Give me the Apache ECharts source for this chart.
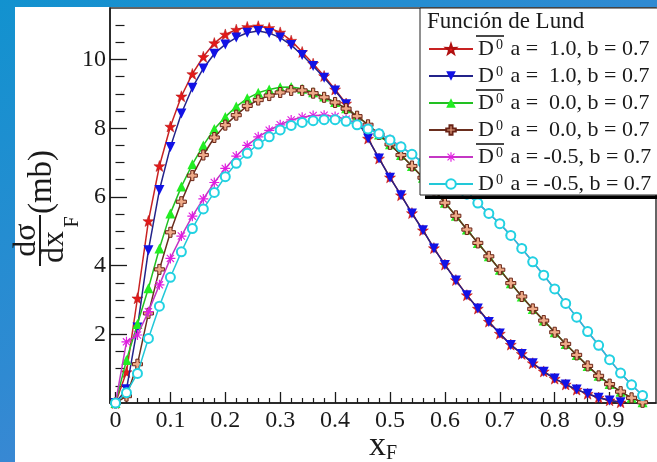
<!DOCTYPE html>
<html>
<head>
<meta charset="utf-8">
<script src="https://cdn.jsdelivr.net/npm/echarts@6/dist/echarts.min.js"></script>
<style>
html,body{margin:0;padding:0;width:657px;height:462px;overflow:hidden;}
body{position:relative;background:linear-gradient(150deg,#1292cf 0%,#2f8ad2 45%,#5e80d8 100%);}
#panel{position:absolute;left:15px;top:7px;right:0;bottom:0;background:#fff;}
#chart{position:absolute;left:0;top:0;width:657px;height:462px;}
</style>
</head>
<body>
<div id="panel"></div>
<div id="chart"></div>
<script>
// x_F sampling points
const xF = [0,0.02,0.04,0.06,0.08,0.1,0.12,0.14,0.16,0.18,0.2,0.22,0.24,0.26,0.28,0.3,0.32,0.34,0.36,0.38,0.4,0.42,0.44,0.46,0.48,0.5,0.52,0.54,0.56,0.58,0.6,0.62,0.64,0.66,0.68,0.7,0.72,0.74,0.76,0.78,0.8,0.82,0.84,0.86,0.88,0.9,0.92,0.94,0.96];

// dσ/dx_F (mb) for each Lund parameter set
const dbarA10 = [0,0.9,3.05,5.3,6.9,8.05,8.93,9.58,10.08,10.48,10.73,10.87,10.95,10.97,10.92,10.79,10.55,10.22,9.88,9.52,9.13,8.72,8.25,7.7,7.12,6.57,6.05,5.53,5.03,4.51,4.03,3.58,3.14,2.75,2.37,2.02,1.7,1.43,1.16,0.92,0.71,0.54,0.39,0.27,0.16,0.08,0.02];
const dA10 = [0,0.4,2.2,4.45,6.2,7.45,8.43,9.18,9.74,10.17,10.44,10.64,10.78,10.83,10.77,10.64,10.42,10.13,9.81,9.47,9.1,8.7,8.24,7.7,7.12,6.56,6.05,5.52,5.03,4.5,4.02,3.57,3.14,2.75,2.36,2.02,1.69,1.43,1.16,0.91,0.71,0.54,0.39,0.27,0.15,0.07,0.02];
const dbarA00 = [0,1.25,2.3,3.34,4.5,5.52,6.3,6.95,7.5,7.98,8.33,8.63,8.87,9.03,9.13,9.19,9.2,9.15,9.05,8.92,8.76,8.58,8.36,8.1,7.82,7.53,7.22,6.9,6.56,6.2,5.83,5.45,5.05,4.66,4.27,3.88,3.49,3.1,2.74,2.4,2.06,1.72,1.4,1.08,0.79,0.55,0.33,0.15,0.02];
const dA00 = [0,0.2,1.13,2.61,3.89,4.97,5.86,6.62,7.22,7.73,8.09,8.38,8.65,8.82,8.95,9.04,9.1,9.1,9.02,8.9,8.75,8.57,8.35,8.1,7.82,7.53,7.22,6.9,6.56,6.2,5.83,5.45,5.05,4.66,4.27,3.88,3.49,3.1,2.74,2.4,2.06,1.72,1.4,1.08,0.79,0.55,0.33,0.15,0.02];
const dbarAm05 = [0,1.78,1.98,2.66,3.44,4.21,4.86,5.44,5.94,6.42,6.83,7.19,7.5,7.75,7.94,8.1,8.24,8.32,8.37,8.38,8.34,8.26,8.14,8.0,7.85,7.67,7.47,7.24,7.0,6.77,6.55,6.33,6.08,5.82,5.52,5.22,4.88,4.5,4.11,3.72,3.32,2.9,2.5,2.08,1.68,1.26,0.87,0.53,0.22];
const dAm05 = [0,0.3,0.86,1.88,2.82,3.66,4.4,5.08,5.65,6.13,6.59,6.98,7.27,7.54,7.75,7.95,8.08,8.17,8.22,8.25,8.25,8.2,8.1,7.98,7.84,7.66,7.46,7.24,7.0,6.77,6.55,6.33,6.08,5.82,5.52,5.22,4.88,4.5,4.11,3.72,3.32,2.9,2.5,2.08,1.68,1.26,0.87,0.53,0.22];

// legend entries
const legendTitle = 'Función de Lund';
const isAnti = [true, false, true, false, true, false];
const paramA = [' 1.0', ' 1.0', ' 0.0', ' 0.0', '-0.5', '-0.5'];
const paramB = '0.7';

// axis ticks and labels
const xMajor = [0,0.1,0.2,0.3,0.4,0.5,0.6,0.7,0.8,0.9];
const xMajorLabels = ['0','0.1','0.2','0.3','0.4','0.5','0.6','0.7','0.8','0.9'];
const xMinor = [0.02,0.04,0.06,0.08,0.12,0.14,0.16,0.18,0.22,0.24,0.26,0.28,0.32,0.34,0.36,0.38,0.42,0.44,0.46,0.48,0.52,0.54,0.56,0.58,0.62,0.64,0.66,0.68,0.72,0.74,0.76,0.78,0.82,0.84,0.86,0.88,0.92,0.94,0.96];
const yMajor = [2,4,6,8,10];
const yMajorLabels = ['2','4','6','8','10'];
const yMinor = [0.5,1,1.5,2.5,3,3.5,4.5,5,5.5,6.5,7,7.5,8.5,9,9.5,10.5,11];

const SERIF = "'Liberation Serif','DejaVu Serif',serif";
const INK = '#1a1a1a';

const seriesData = [dbarA10, dA10, dbarA00, dA00, dbarAm05, dAm05];
const names = seriesData.map((_, i) => (isAnti[i] ? 'Dbar0' : 'D0') + ' a=' + paramA[i].trim() + ' b=' + paramB);

const SYM_STAR = 'path://M50,0 L61.8,35.1 L97.6,34.5 L69,56.7 L79.4,90.5 L50,70.3 L20.6,90.5 L31,56.7 L2.4,34.5 L38.2,35.1 Z';
const SYM_DOWN = 'path://M0,0 L100,0 L50,90 Z';
const SYM_PLUS = 'path://M34,0 H66 V34 H100 V66 H66 V100 H34 V66 H0 V34 H34 Z';
const SYM_AST = 'path://M44,0 H56 V100 H44 Z M0,44 H100 V56 H0 Z M10,18 L18,10 L90,82 L82,90 Z M82,10 L90,18 L18,90 L10,82 Z';

const styles = [
  { line: '#c82222', symbol: SYM_STAR, size: 11, fill: '#e31a1a', border: '#b01010', bw: 0.5 },
  { line: '#23238a', symbol: SYM_DOWN, size: 10, fill: '#1212e6', border: '#1212e6', bw: 0 },
  { line: '#22c022', symbol: 'triangle', size: 10, fill: '#22ee22', border: '#22ee22', bw: 0 },
  { line: '#6a2e1e', symbol: SYM_PLUS, size: 10, fill: '#eeaa88', border: '#6a2416', bw: 1 },
  { line: '#c437c4', symbol: SYM_AST, size: 10, fill: '#e01ee0', border: '#e01ee0', bw: 0 },
  { line: '#22c8d8', symbol: 'emptyCircle', size: 9, fill: '#22d2e2', border: '#22d2e2', bw: 1.5 }
];

const series = seriesData.map((vals, i) => ({
  name: names[i],
  type: 'line',
  xAxisIndex: 0,
  yAxisIndex: 0,
  data: vals.map((v, k) => [xF[k], v]),
  symbol: styles[i].symbol,
  symbolSize: styles[i].size,
  showSymbol: true,
  showAllSymbol: true,
  lineStyle: { color: styles[i].line, width: 1.5 },
  itemStyle: { color: styles[i].fill, borderColor: styles[i].border, borderWidth: styles[i].bw },
  emphasis: { disabled: true },
  animation: false,
  z: 2 + i * 0.01
}));

const legendRow0 = 49, legendStep = 27;
const graphics = [
  // legend frame
  { type: 'rect', z: 3, shape: { x: 420, y: 8, width: 250, height: 187 },
    style: { fill: '#fff', stroke: '#222', lineWidth: 1 } },
  { type: 'rect', z: 3, shape: { x: 425, y: 195.5, width: 245, height: 3.5 }, style: { fill: '#000' } },
  { type: 'text', z: 6, x: 427, y: 22,
    style: { text: legendTitle, font: '23px ' + SERIF, fill: INK, textAlign: 'left', textVerticalAlign: 'middle' } },
  // y-axis title  dσ/dx_F (mb), written bottom to top
  { type: 'text', z: 6, x: 27, y: 240, rotation: Math.PI / 2,
    style: { text: 'dσ', font: '32px ' + SERIF, fill: INK, textAlign: 'center', textVerticalAlign: 'middle' } },
  { type: 'line', z: 6, shape: { x1: 40, y1: 215, x2: 40, y2: 266 }, style: { stroke: INK, lineWidth: 2 } },
  { type: 'text', z: 6, x: 55, y: 247, rotation: Math.PI / 2,
    style: { text: 'dx', font: '32px ' + SERIF, fill: INK, textAlign: 'center', textVerticalAlign: 'middle' } },
  { type: 'text', z: 6, x: 73, y: 222, rotation: Math.PI / 2,
    style: { text: 'F', font: '20px ' + SERIF, fill: INK, textAlign: 'center', textVerticalAlign: 'middle' } },
  { type: 'text', z: 6, x: 42, y: 182, rotation: Math.PI / 2,
    style: { text: '(mb)', font: '33px ' + SERIF, fill: INK, textAlign: 'center', textVerticalAlign: 'middle' } }
];
isAnti.forEach((anti, i) => {
  if (anti) {
    const y = legendRow0 + i * legendStep - 13;
    graphics.push({ type: 'line', z: 6, shape: { x1: 476, y1: y, x2: 504, y2: y }, style: { stroke: INK, lineWidth: 1.6 } });
  }
});

const option = {
  backgroundColor: 'transparent',
  animation: false,
  grid: { left: 110, top: 8, right: 1, bottom: 59, containLabel: false, outerBoundsMode: 'none',
    show: true, borderColor: '#333', borderWidth: 1.5, backgroundColor: 'transparent' },
  xAxis: [
    {
      type: 'value', min: -0.01, max: 0.9845, position: 'bottom',
      axisLine: { show: true, onZero: false, lineStyle: { color: INK, width: 1.5 } },
      axisTick: { show: true, inside: true, length: 11, customValues: xMajor, lineStyle: { color: INK, width: 1.3 } },
      axisLabel: { show: true, customValues: xMajor, margin: 6, fontFamily: SERIF, fontSize: 24, color: INK,
        formatter: v => { const k = xMajor.findIndex(m => Math.abs(m - v) < 1e-6); return k >= 0 ? xMajorLabels[k] : ''; } },
      splitLine: { show: false },
      name: '{x|x}{f|F}', nameLocation: 'middle', nameGap: 25, nameMoveOverlap: false,
      nameTextStyle: { rich: {
        x: { fontFamily: SERIF, fontSize: 34, color: INK, lineHeight: 36 },
        f: { fontFamily: SERIF, fontSize: 20, color: INK, lineHeight: 20, padding: [16, 0, 0, 0] }
      } }
    },
    {
      type: 'value', min: -0.01, max: 0.9845, position: 'bottom',
      axisLine: { show: false },
      axisTick: { show: true, inside: true, length: 5, customValues: xMinor, lineStyle: { color: INK, width: 1.2 } },
      axisLabel: { show: false },
      splitLine: { show: false }
    }
  ],
  yAxis: [
    {
      type: 'value', min: 0, max: 11.5, position: 'left',
      axisLine: { show: true, onZero: false, lineStyle: { color: INK, width: 1.5 } },
      axisTick: { show: true, inside: true, length: 17, customValues: yMajor, lineStyle: { color: INK, width: 1.3 } },
      axisLabel: { show: true, customValues: yMajor, margin: 4, fontFamily: SERIF, fontSize: 24, color: INK,
        formatter: v => { const k = yMajor.indexOf(v); return k >= 0 ? yMajorLabels[k] : ''; } },
      splitLine: { show: false }
    },
    {
      type: 'value', min: 0, max: 11.5, position: 'left',
      axisLine: { show: false },
      axisTick: { show: true, inside: true, length: 9, customValues: yMinor, lineStyle: { color: INK, width: 1.2 } },
      axisLabel: { show: false },
      splitLine: { show: false }
    }
  ],
  legend: {
    orient: 'vertical', left: 428, top: legendRow0 - 11, z: 5,
    itemWidth: 44, itemHeight: 12, itemGap: legendStep - 22,
    padding: 0,
    selectedMode: false,
    data: names,
    textStyle: {
      fontFamily: SERIF, fontSize: 22, color: INK, lineHeight: 22,
      rich: {
        d: { fontFamily: SERIF, fontSize: 22, color: INK, lineHeight: 22 },
        s: { fontFamily: SERIF, fontSize: 14, color: INK, lineHeight: 14, padding: [0, 2, 8, 2] },
        t: { fontFamily: SERIF, fontSize: 22, color: INK, lineHeight: 22 }
      }
    },
    formatter: name => {
      const i = names.indexOf(name);
      return '{d|D}{s|0}{t| a = ' + paramA[i] + ', b = ' + paramB + '}';
    }
  },
  graphic: graphics,
  series: series
};

const chart = echarts.init(document.getElementById('chart'), null, { renderer: 'canvas' });
chart.setOption(option);
</script>
</body>
</html>
